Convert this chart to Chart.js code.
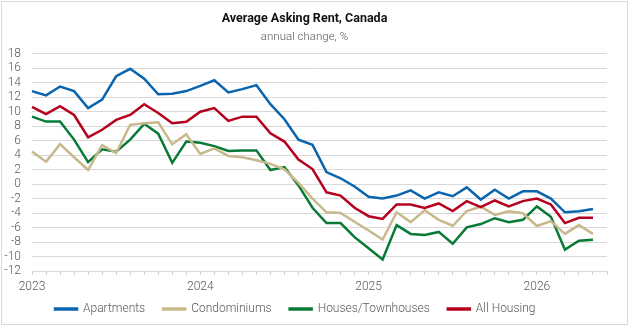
<!DOCTYPE html>
<html><head><meta charset="utf-8">
<script src="https://cdn.jsdelivr.net/npm/chart.js@4.4.1/dist/chart.umd.min.js"></script>
<style>html,body{margin:0;padding:0;background:#fff}#wrap{width:629px;height:326px;position:relative}</style>
</head><body><div id="wrap"><canvas id="c" width="629" height="326"></canvas></div>
<script>
const monthLabels = [];
for (let y = 2023; y <= 2026; y++) for (let m = 1; m <= 12; m++) { if (y === 2026 && m > 6) break; monthLabels.push(y + '-' + String(m).padStart(2,'0')); }
const apartments = [12.85,12.26,13.48,12.85,10.5,11.67,14.9,15.93,14.57,12.4,12.49,12.85,
  13.57,14.34,12.67,13.12,13.67,11.04,8.96,6.15,5.43,1.67,0.81,-0.32,
  -1.76,-1.99,-1.58,-0.86,-1.99,-1.13,-1.67,-0.45,-2.13,-0.77,-1.99,-1.0,
  -1.0,-1.99,-3.89,-3.76,-3.44];
const condominiums = [4.52,3.08,5.52,3.71,1.95,5.38,4.3,8.19,8.42,8.55,5.5,6.88,
  4.16,4.93,3.89,3.71,3.3,2.8,2.04,0.18,-2.0,-3.89,-3.98,-5.2,
  -6.4,-7.65,-3.89,-5.25,-3.62,-4.93,-5.75,-3.71,-3.12,-4.25,-3.76,-4.03,
  -5.79,-5.11,-6.88,-5.66,-6.88];
const houses = [9.32,8.64,8.64,6.15,3.03,4.8,4.48,6.15,8.33,6.97,2.94,5.88,
  5.7,5.25,4.57,4.66,4.66,1.95,2.35,-0.18,-3.26,-5.38,-5.38,-7.33,
  -8.87,-10.4,-5.66,-6.88,-7.01,-6.6,-8.24,-5.97,-5.52,-4.71,-5.25,-4.93,
  -3.08,-4.52,-9.05,-7.83,-7.69];
const allHousing = [10.68,9.68,10.77,9.55,6.47,7.51,8.87,9.55,11.04,9.82,8.4,8.6,
  10.0,10.5,8.73,9.32,9.32,7.01,5.88,3.39,2.08,-1.13,-1.58,-3.26,
  -4.43,-4.8,-2.81,-2.81,-3.3,-2.67,-3.71,-2.35,-3.17,-2.26,-3.08,-2.35,
  -1.99,-2.81,-5.38,-4.66,-4.66];
const seriesNames = ['Apartments','Condominiums','Houses/Townhouses','All Housing'];
const yTicks = {min: -12, max: 18, step: 2};

const FONT = "Roboto, sans-serif";
const colors = ['#0a64ae', '#c8b98c', '#087a36', '#b5001e'];
const data = [apartments, condominiums, houses, allHousing];

const framePlugin = {
  id: 'frame',
  beforeDraw(chart) {
    const ctx = chart.ctx;
    ctx.save();
    ctx.fillStyle = '#fff';
    ctx.fillRect(0, 0, chart.width, chart.height);
    ctx.strokeStyle = '#d9d9d9';
    ctx.lineWidth = 1;
    ctx.strokeRect(1.5, 1.5, chart.width - 3, chart.height - 3);
    ctx.restore();
  }
};
const legendShift = {
  id: 'legendShift',
  afterLayout(chart) { if (chart.legend) { chart.legend.left += 35; } }
};

Chart.defaults.font.family = FONT;
Chart.defaults.color = '#595959';
const f = (size, weight) => ({size, family: FONT, weight: weight || 'normal'});

new Chart(document.getElementById('c'), {
  type: 'line',
  data: {
    labels: monthLabels,
    datasets: data.map((d, i) => ({
      label: seriesNames[i],
      data: d,
      borderColor: colors[i],
      backgroundColor: colors[i],
      borderWidth: 2.5,
      pointRadius: 0,
      tension: 0,
      order: [3, 1, 2, 0][i]
    }))
  },
  options: {
    responsive: false,
    animation: false,
    layout: {padding: {left: 2, right: 22, top: 0, bottom: 1}},
    plugins: {
      title: {display: true, text: 'Average Asking Rent, Canada', color: '#111', font: f(12.5, 'bold'), padding: {top: 11, bottom: 1}},
      subtitle: {display: true, text: 'annual change, %', color: '#595959', font: f(11.5, '300'), padding: {top: 3, bottom: 10}},
      legend: {
        position: 'bottom',
        align: 'start',
        labels: {boxWidth: 22, boxHeight: 1, padding: 18, color: '#595959', font: f(12, '300'),
          sort: (a, b) => a.datasetIndex - b.datasetIndex}
      },
      tooltip: {enabled: false}
    },
    scales: {
      x: {
        type: 'category',
        offset: false,
        grid: {drawOnChartArea: false, drawTicks: true, tickLength: 4, tickColor: '#d0d0d0', color: '#d9d9d9'},
        border: {display: true, color: '#d9d9d9'},
        ticks: {autoSkip: false, maxRotation: 0, padding: 5, color: '#595959', font: f(12, '300'),
          callback: function(v, i) { const l = monthLabels[i]; return l.endsWith('-01') ? l.slice(0,4) : ''; }},
        afterFit(s) { s.height = 14; s._computeLabelArea = () => undefined; }
      },
      y: {
        min: yTicks.min, max: yTicks.max,
        grid: {color: '#d9d9d9', drawTicks: false},
        border: {display: false},
        ticks: {stepSize: yTicks.step, autoSkip: false, padding: 11, color: '#595959', font: f(12, '300')},
        afterFit(s) { s.width = 30; }
      }
    }
  },
  plugins: [framePlugin, legendShift]
});
</script></body></html>
